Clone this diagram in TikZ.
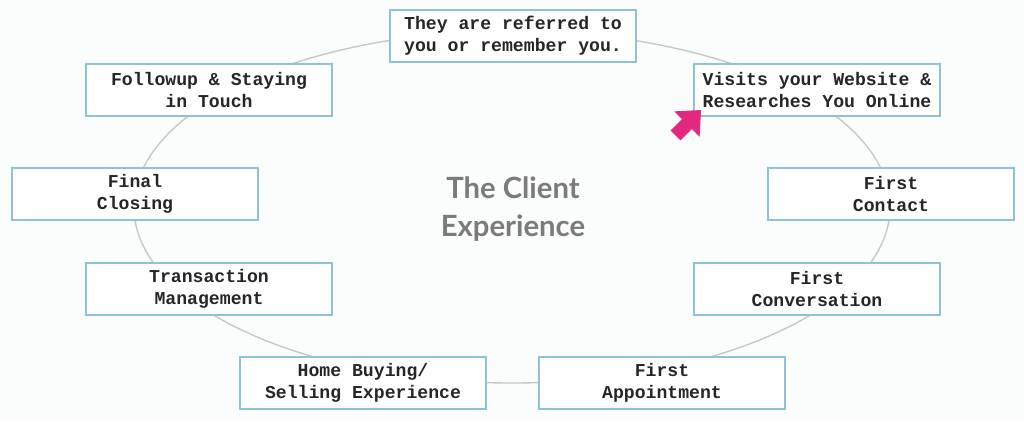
\documentclass[tikz,border=0pt]{standalone}
\usepackage{fontspec}
\setmonofont{Liberation Mono}
\newfontfamily\titlefont{Lato}
\usetikzlibrary{positioning}

\definecolor{boxblue}{HTML}{8DC3D6}
\definecolor{ringgray}{HTML}{C8C8C8}
\definecolor{titlegray}{HTML}{7B7B7B}
\definecolor{pointer}{HTML}{E2287F}
\definecolor{bgcol}{HTML}{FBFCFC}

\tikzset{
  stagebox/.style={draw=boxblue, line width=1pt, fill=white, align=center,
    minimum width=6.15cm, minimum height=1.3cm, inner sep=2pt,
    font=\ttfamily\bfseries\fontsize{12.9}{15.8}\selectfont, text=black!85},
  ring/.style={draw=ringgray, line width=1pt}
}

\begin{document}
\begin{tikzpicture}[x=0.025cm, y=-0.025cm]
    % Page and background
    \useasboundingbox (0,0) rectangle (1024,421);
    \fill[bgcol] (0,0) rectangle (1024,421);

    % Draw the ring behind the stages
    \coordinate (hub) at (512,207);
    \draw[ring] (hub) ellipse [x radius=378, y radius=176];

    % Draw the stages
    \foreach \name/\x/\y/\txt in {
        referred/513/36/{They are referred to\\you or remember you.},
        website/817/90/{Visits your Website \&\\Researches You Online},
        contact/891/194/{First\\Contact},
        conversation/817/289/{First\\Conversation},
        appointment/662/383/{First\\Appointment},
        buying/363/383/{Home Buying/\\Selling Experience},
        transaction/209/289/{Transaction\\Management},
        closing/135/194/{Final\\Closing},
        followup/209/90/{Followup \& Staying\\in Touch}} {
        \node[stagebox] (\name) at (\x,\y) {\txt};
    }

    % Title in the middle
    \node[font=\titlefont\bfseries\fontsize{20.8}{27.5}\selectfont, text=titlegray, align=center]
        (title) at (513,209) {The Client\\Experience};

    % Pointer at the website stage
    \fill[pointer] (701,110) -- (699.6,136.8) -- (691.85,129.05) -- (680.4,140.4)
        -- (670.6,130.6) -- (681.95,119.15) -- (674.2,111.4) -- cycle;
\end{tikzpicture}
\end{document}
